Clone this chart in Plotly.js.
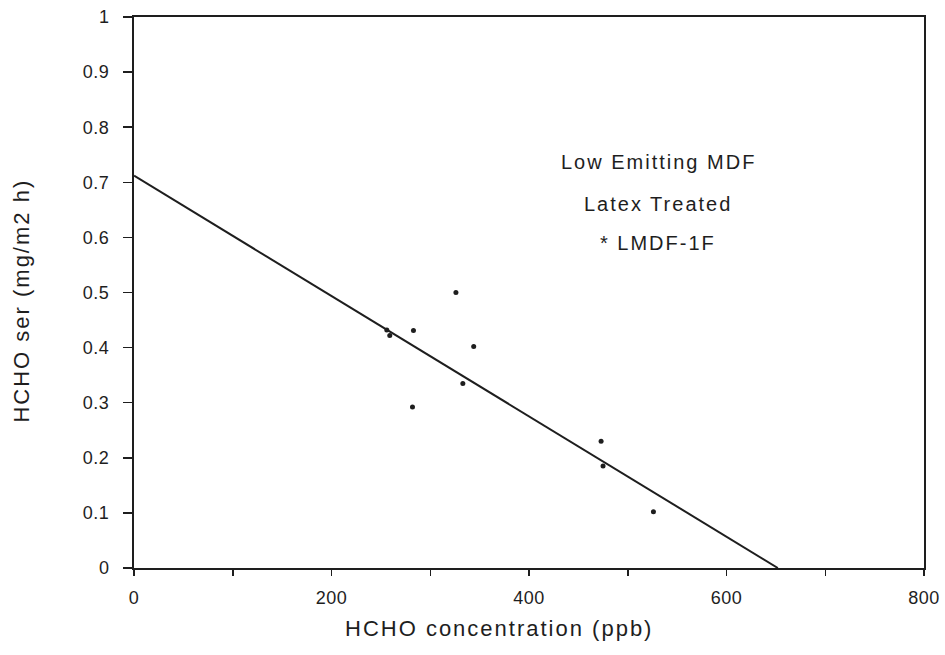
<!DOCTYPE html>
<html>
<head>
<meta charset="utf-8">
<script src="https://cdn.plot.ly/plotly-3.0.1.min.js"></script>
<style>
html,body{margin:0;padding:0;background:#fff;}
#chart{width:945px;height:655px;}
#chart .annotation-text{letter-spacing:2px;}
#chart .xtick text,#chart .ytick text{letter-spacing:0.5px;}
</style>
</head>
<body>
<div id="chart"></div>
<script>
// Measured points (HCHO concentration ppb, HCHO ser mg/m2 h)
const concPpb = [326, 256, 259, 283, 344, 333, 282, 473, 475, 526];
const serValues = [0.50, 0.432, 0.422, 0.431, 0.402, 0.335, 0.292, 0.230, 0.185, 0.102];
// Regression line endpoints
const fitX = [0, 652];
const fitY = [0.712, 0];
const annotationLines = ["Low Emitting MDF", "Latex Treated", "* LMDF-1F"];
const xTitle = "HCHO concentration (ppb)";
const yTitle = "HCHO ser (mg/m2 h)";
const xTickVals = [0,100,200,300,400,500,600,700,800];
const xTickText = ["0","","200","","400","","600","","800"];

const font = "Liberation Sans, Arial, sans-serif";
const ink = "#1e1e1e";

const traces = [
  {x: fitX, y: fitY, mode: "lines", type: "scatter",
   line: {color: ink, width: 2}, hoverinfo: "skip"},
  {x: concPpb, y: serValues, mode: "markers", type: "scatter",
   marker: {color: ink, size: 5}}
];

const annY = [0.737, 0.661, 0.59];
const annotations = annotationLines.map((t, i) => ({
  text: t, x: 531, y: annY[i], xref: "x", yref: "y",
  showarrow: false, xanchor: "center", yanchor: "middle",
  font: {family: font, size: 20, color: ink}
}));
annotations.push({
  text: xTitle, xref: "paper", yref: "paper", x: 0.462, y: -0.109,
  showarrow: false, xanchor: "center", yanchor: "middle",
  font: {family: font, size: 22, color: ink}
});
annotations.push({
  text: yTitle, xref: "paper", yref: "paper", x: -0.142, y: 0.485,
  showarrow: false, xanchor: "center", yanchor: "middle", textangle: -90,
  font: {family: font, size: 22, color: ink}
});

const layout = {
  width: 945, height: 655,
  margin: {l: 134, r: 21, t: 17, b: 87},
  paper_bgcolor: "#fff", plot_bgcolor: "#fff",
  showlegend: false,
  font: {family: font, color: ink},
  xaxis: {
    range: [0, 800], tickvals: xTickVals, ticktext: xTickText,
    ticks: "outside", ticklen: 6, tickwidth: 1.5, tickcolor: ink,
    showline: true, linecolor: ink, linewidth: 2, mirror: true,
    showgrid: false, zeroline: false, ticklabelstandoff: 6,
    tickfont: {family: font, size: 18, color: ink}
  },
  yaxis: {
    range: [0, 1], dtick: 0.1, tick0: 0,
    ticks: "outside", ticklen: 9, tickwidth: 1.5, tickcolor: ink,
    showline: true, linecolor: ink, linewidth: 2, mirror: true,
    showgrid: false, zeroline: false, ticklabelstandoff: 10,
    tickfont: {family: font, size: 18, color: ink}
  },
  annotations: annotations
};

Plotly.newPlot("chart", traces, layout, {displayModeBar: false, staticPlot: true});
</script>
</body>
</html>
